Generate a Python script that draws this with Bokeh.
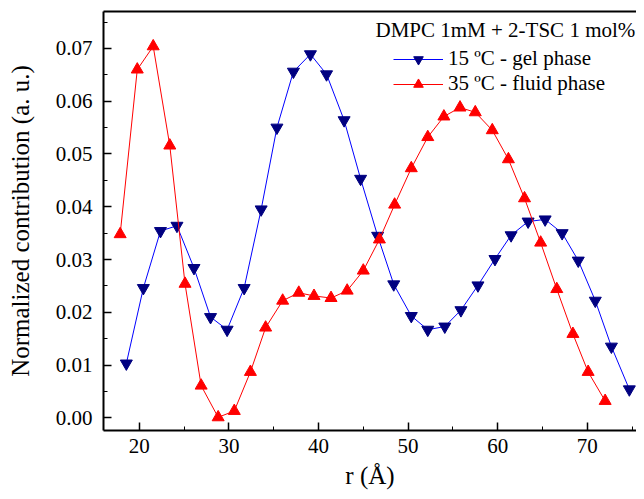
from bokeh.plotting import figure
from bokeh.models import (Range1d, FixedTicker, PrintfTickFormatter, LinearAxis,
                          Legend, LegendItem, Label, ColumnDataSource)
from bokeh.embed import file_html
from bokeh.resources import INLINE

# ---- data ----
r_gel = [18.55, 20.45, 22.36, 24.2, 26.1, 27.95, 29.8, 31.7, 33.6, 35.36, 37.2,
         39.1, 40.9, 42.86, 44.7, 46.6, 48.4, 50.36, 52.2, 54.1, 55.9, 57.8,
         59.7, 61.5, 63.4, 65.3, 67.2, 69.0, 70.9, 72.7, 74.7]
c_gel = [0.0103, 0.0246, 0.0354, 0.0364, 0.0284, 0.0191, 0.0167, 0.0246, 0.0395,
         0.0550, 0.0656, 0.0689, 0.0651, 0.0564, 0.0453, 0.0345, 0.0253, 0.0193,
         0.0167, 0.0173, 0.0204, 0.0251, 0.0301, 0.0346, 0.0372, 0.0376, 0.0350,
         0.0298, 0.0222, 0.0135, 0.0054]

r_fluid = [17.86, 19.77, 21.55, 23.4, 25.1, 26.9, 28.8, 30.6, 32.4, 34.1, 36.0,
           37.8, 39.5, 41.4, 43.2, 45.0, 46.8, 48.5, 50.36, 52.2, 54.0, 55.8,
           57.5, 59.4, 61.2, 63.0, 64.8, 66.6, 68.4, 70.1, 72.0]
c_fluid = [0.0348, 0.0660, 0.0704, 0.0516, 0.0254, 0.0061, 0.0001, 0.0013, 0.0087,
           0.0171, 0.0222, 0.0237, 0.0231, 0.0227, 0.0241, 0.0279, 0.0338, 0.0404,
           0.0473, 0.0532, 0.0571, 0.0588, 0.0579, 0.0545, 0.0490, 0.0416, 0.0332,
           0.0244, 0.0159, 0.0087, 0.0032]

x_ticks = [20, 30, 40, 50, 60, 70]
x_minor = [25, 35, 45, 55, 65, 75]
y_ticks = [0.0, 0.01, 0.02, 0.03, 0.04, 0.05, 0.06, 0.07]
y_minor = [0.005, 0.015, 0.025, 0.035, 0.045, 0.055, 0.065, 0.075]

legend_title = "DMPC 1mM + 2-TSC 1 mol%"
label_gel = "15 ºC - gel phase"
label_fluid = "35 ºC - fluid phase"

FONT = "Liberation Serif"

p = figure(width=636, height=491, output_backend="svg", toolbar_location=None,
           x_range=Range1d(16, 75.5), y_range=Range1d(-0.0024, 0.077),
           min_border_left=103, min_border_right=0, min_border_top=11,
           min_border_bottom=61)
p.outline_line_color = None
p.grid.visible = False
p.background_fill_color = "white"

# main axes
for ax in (p.xaxis[0], p.yaxis[0]):
    ax.axis_line_width = 2
    ax.axis_line_color = "black"
    ax.major_tick_in = 8
    ax.major_tick_out = 0
    ax.minor_tick_in = 4
    ax.minor_tick_out = 0
    ax.major_tick_line_width = 1.5
    ax.minor_tick_line_width = 1
    ax.major_label_text_font = FONT
    ax.major_label_text_font_size = "21px"
    ax.major_label_text_color = "black"
    ax.axis_label_text_font = FONT
    ax.axis_label_text_font_size = "25px"
    ax.axis_label_text_font_style = "normal"
    ax.axis_label_text_color = "black"

p.xaxis.ticker = FixedTicker(ticks=x_ticks, minor_ticks=x_minor)
p.yaxis.ticker = FixedTicker(ticks=y_ticks, minor_ticks=y_minor)
p.yaxis.formatter = PrintfTickFormatter(format="%.2f")
p.xaxis.axis_label = "r (Å)"
p.yaxis.axis_label = "Normalized contribution (a. u.)"
p.xaxis.major_label_standoff = 8
p.yaxis.major_label_standoff = 11
p.xaxis.axis_label_standoff = 6
p.yaxis.axis_label_standoff = 19

# top spine
top = LinearAxis(ticker=FixedTicker(ticks=[]), major_label_text_font_size="0px",
                 axis_line_width=2, axis_line_color="black",
                 major_tick_line_color=None, minor_tick_line_color=None,
                 major_label_standoff=0)
p.add_layout(top, "above")

src_gel = ColumnDataSource(dict(x=r_gel, y=c_gel))
src_fluid = ColumnDataSource(dict(x=r_fluid, y=c_fluid))

l_gel = p.line("x", "y", source=src_gel, line_color="#0000FF", line_width=1)
m_gel = p.scatter("x", "y", source=src_gel, marker="inverted_triangle", size=12,
                  fill_color="#000080", line_color="#000080")
l_fl = p.line("x", "y", source=src_fluid, line_color="#FF0000", line_width=1)
m_fl = p.scatter("x", "y", source=src_fluid, marker="triangle", size=12,
                 fill_color="#FF0000", line_color="#FF0000")

legend = Legend(items=[LegendItem(label=label_gel, renderers=[l_gel, m_gel]),
                       LegendItem(label=label_fluid, renderers=[l_fl, m_fl])],
                location=(290, 334), padding=0, margin=0, spacing=0,
                border_line_color=None, background_fill_alpha=0,
                glyph_width=50, glyph_height=24, label_height=24,
                label_standoff=5, label_text_font=FONT,
                label_text_font_size="21px", label_text_color="black")
p.add_layout(legend)

title = Label(x=272, y=389, x_units="screen", y_units="screen", text=legend_title,
              text_font=FONT, text_font_size="21px", text_color="black")
p.add_layout(title)

open("out.html", "w").write(file_html(p, INLINE))
